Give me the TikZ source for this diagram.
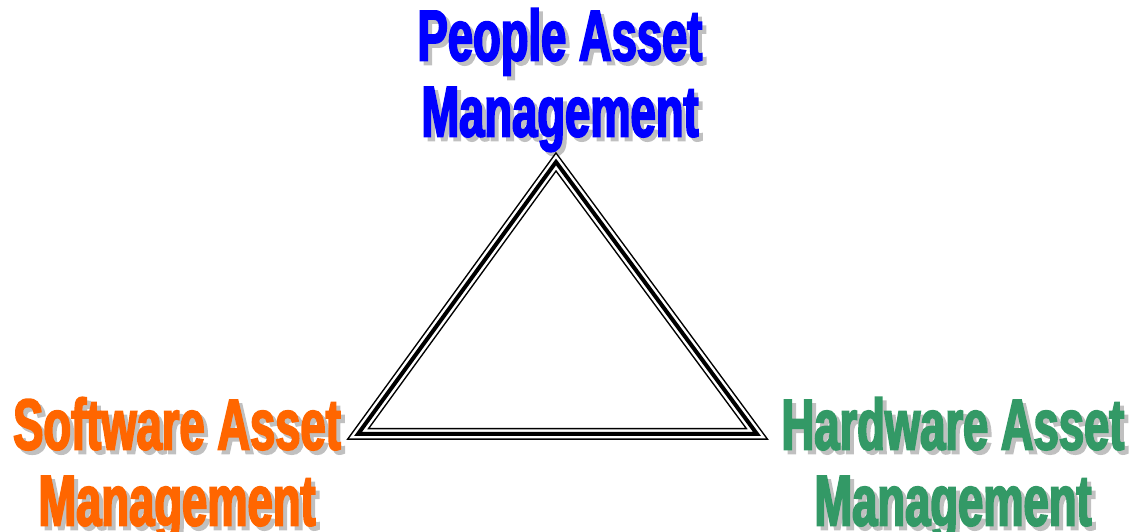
\documentclass[tikz,border=0pt]{standalone}
\usepackage{fontspec}
\newfontfamily\assetfont[FakeStretch=0.63,BoldFeatures={FakeBold=2.5}]{Liberation Sans}
\definecolor{peopleblue}{RGB}{0,0,255}
\definecolor{softorange}{RGB}{255,102,0}
\definecolor{hardgreen}{RGB}{51,153,102}
\definecolor{shadowgray}{RGB}{192,192,192}
\pgfdeclarelayer{bg}
\pgfsetlayers{bg,main}
\tikzset{
  assettext/.style={font=\assetfont\bfseries\fontsize{72}{76}\selectfont, align=center, inner sep=0pt},
  assetshadow/.style={assettext, text=shadowgray}
}

\begin{document}
\begin{tikzpicture}[x=1pt,y=1pt]
  \useasboundingbox (0,0) rectangle (1142,532);

  \coordinate (top) at (556,370);
  \coordinate (left) at (358,98);
  \coordinate (right) at (757,98);

  \draw[line width=12pt, line join=miter] (top) -- (left) -- (right) -- cycle;
  \draw[white, line width=9pt, line join=miter] (top) -- (left) -- (right) -- cycle;
  \draw[line width=4pt, line join=miter] (top) -- (left) -- (right) -- cycle;

  \node[assettext, text=peopleblue] (people) at (560,452) {People Asset\\Management};
  \node[assettext, text=softorange] (software) at (177,63) {Software Asset\\Management};
  \node[assettext, text=hardgreen] (hardware) at (953,63) {Hardware Asset\\Management};

  \begin{pgfonlayer}{bg}    % shadows go behind the text
    \node[assetshadow] (people-s) at (564,448) {People Asset\\Management};
    \node[assetshadow] (software-s) at (181,59) {Software Asset\\Management};
    \node[assetshadow] (hardware-s) at (957,59) {Hardware Asset\\Management};
  \end{pgfonlayer}

\end{tikzpicture}
\end{document}
